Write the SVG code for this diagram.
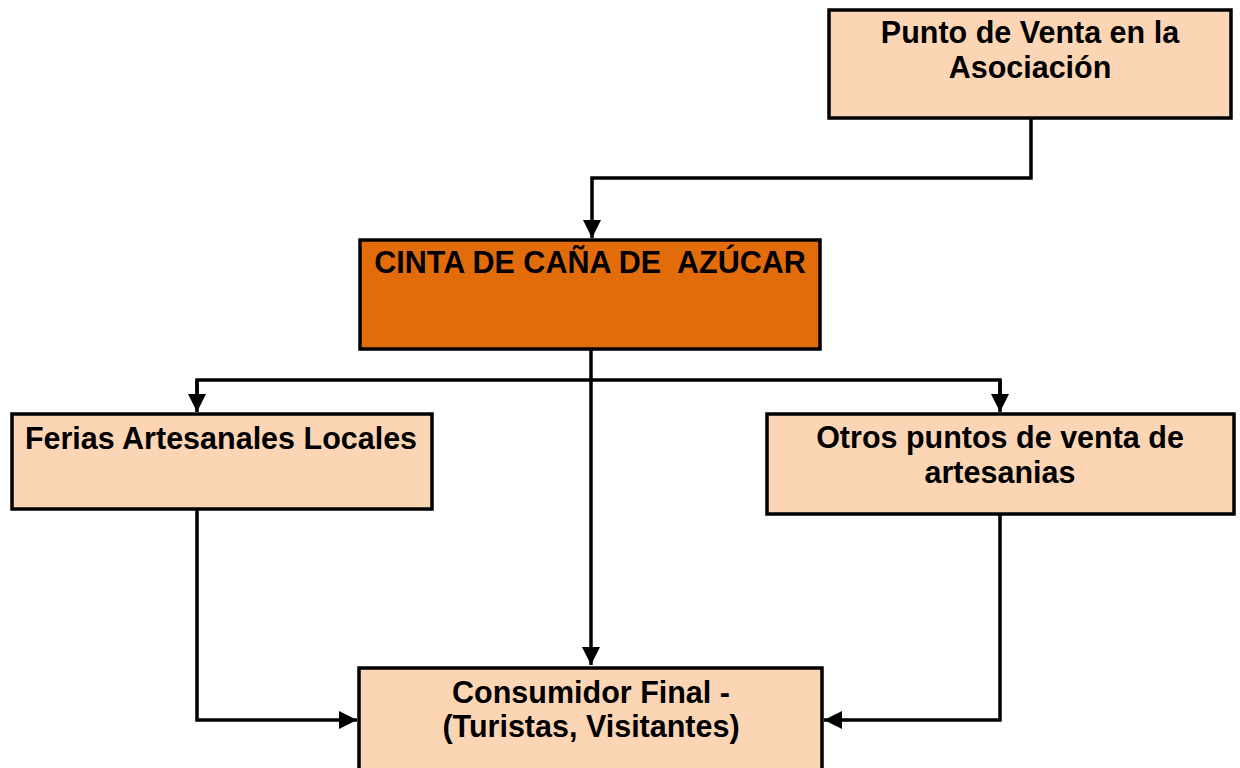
<svg xmlns="http://www.w3.org/2000/svg" width="1240" height="768" viewBox="0 0 1240 768">
<defs>
<style>
.box{fill:#FCD5B4;stroke:#000;stroke-width:3.5}
.main{fill:#E36C0A;stroke:#000;stroke-width:3.5}
.t{font-family:"Liberation Sans",Arial,sans-serif;font-weight:bold;font-size:30.5px;fill:#000;text-anchor:middle}
.c{fill:none;stroke:#000;stroke-width:3.5}
</style>
<marker id="arr" viewBox="0 0 18 18" refX="18" refY="9" markerWidth="18" markerHeight="18" markerUnits="userSpaceOnUse" orient="auto">
<path d="M0,0 L18,9 L0,18 z" fill="#000"/>
</marker>
</defs>
<rect width="1240" height="768" fill="#fff"/>
<g id="connectors">
<path class="c" d="M1031,118 V178 H592 V238" marker-end="url(#arr)"/>
<path class="c" d="M591,349 V665" marker-end="url(#arr)"/>
<path class="c" d="M197,396 V380 H1000 V396" />
<path class="c" d="M197,380 V412" marker-end="url(#arr)"/>
<path class="c" d="M1000,380 V412" marker-end="url(#arr)"/>
<path class="c" d="M197,509 V720 H357" marker-end="url(#arr)"/>
<path class="c" d="M1000,514 V720 H824" marker-end="url(#arr)"/>
</g>
<g id="node-punto">
<rect class="box" x="829" y="10" width="402" height="108"/>
<text class="t" x="1030" y="43">Punto de Venta en la</text>
<text class="t" x="1030" y="78">Asociación</text>
</g>
<g id="node-cinta">
<rect class="main" x="360" y="240" width="460" height="109"/>
<text class="t" x="590" y="273" xml:space="preserve">CINTA DE CAÑA DE  AZÚCAR</text>
</g>
<g id="node-ferias">
<rect class="box" x="12" y="414" width="420" height="95"/>
<text class="t" x="221" y="449">Ferias Artesanales Locales</text>
</g>
<g id="node-otros">
<rect class="box" x="767" y="414" width="467" height="100"/>
<text class="t" x="1000" y="448">Otros puntos de venta de</text>
<text class="t" x="1000" y="483">artesanias</text>
</g>
<g id="node-consumidor">
<rect class="box" x="359" y="668" width="463" height="120"/>
<text class="t" x="591" y="703">Consumidor Final -</text>
<text class="t" x="591" y="737">(Turistas, Visitantes)</text>
</g>
</svg>
